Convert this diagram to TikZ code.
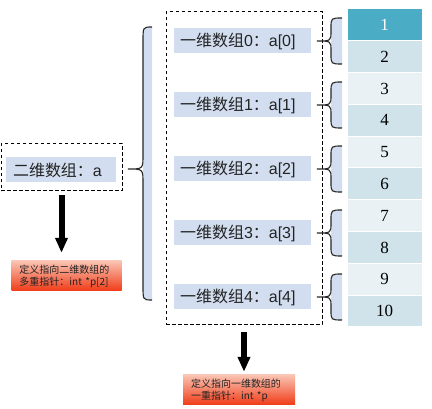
\documentclass[tikz,border=0pt]{standalone}
\usepackage{fontspec}
\setmainfont{Liberation Sans}
\newfontfamily\cjk{Noto Sans CJK SC}
\newfontfamily\numfont{Liberation Serif}
\usetikzlibrary{arrows.meta,positioning,calc}
\definecolor{lblue}{RGB}{210,222,240}
\definecolor{headcell}{RGB}{75,172,198}
\definecolor{darkcell}{RGB}{208,227,234}
\definecolor{lightcell}{RGB}{233,241,244}
\definecolor{txtgray}{RGB}{35,35,35}
\definecolor{redtop}{RGB}{250,195,178}
\definecolor{redbot}{RGB}{240,58,22}
\tikzset{
dbox/.style={draw, dash pattern=on 3.5pt off 2.5pt, line width=1pt, inner sep=0pt},
lbl/.style={fill=lblue, text=txtgray, minimum height=25pt, inner xsep=6pt, inner ysep=0pt, align=left, font=\fontsize{16}{19}\selectfont},
cell/.style={draw=white, line width=1pt, minimum width=75pt, minimum height=31.8pt, inner sep=0pt, font=\numfont\fontsize{17}{20}\selectfont},
note/.style={top color=redtop, bottom color=redbot, text=txtgray, align=left, minimum height=30pt, inner xsep=8pt, inner ysep=2pt, font=\cjk\fontsize{10}{12}\selectfont},
bigarr/.style={-{Triangle[width=12pt,length=15pt]}, line width=6pt},
bracedraw/.style={draw=black!85, line width=1.1pt},
}
% left brace: tip x, stem x, right x, top y, middle y, bottom y, curl
\newcommand{\drawbrace}[7]{%
\fill[lblue] (#3,#4) .. controls (#2,#4) .. (#2,{#4+#7}) -- (#2,{#6-#7}) .. controls (#2,#6) .. (#3,#6) -- cycle;
\draw[bracedraw] (#3,#4) .. controls (#2,#4) .. (#2,{#4+#7}) -- (#2,{#5-#7})
.. controls (#2,#5) .. (#1,#5) .. controls (#2,#5) .. (#2,{#5+#7})
-- (#2,{#6-#7}) .. controls (#2,#6) .. (#3,#6);
}

\begin{document}
\begin{tikzpicture}[x=1pt,y=-1pt]
\useasboundingbox (0,0) rectangle (432,409);

% two-dimensional array
\node[dbox, minimum width=121pt, minimum height=47pt] (dimbox) at (61.5,167.5) {};
\node[lbl, text width=96pt, inner xsep=7pt] (dimlbl) at (61,170) {{\cjk 二维数组：}a};
\node[note, text width=94pt] (noteA) at (66.5,276) {定义指向二维数组的\\多重指针：int *p[2]};
\draw[bigarr, shorten <=4pt, shorten >=8pt] (dimbox.south) -- (dimbox.south |- noteA.north);

% one-dimensional arrays
\node[dbox, minimum width=156pt, minimum height=313pt] (midbox) at (244,168.5) {};
\foreach \i in {0,...,4}
\node[lbl, text width=125pt] (row\i) at (242.5,{41+64*\i}) {{\cjk 一维数组}\i{\cjk ：}a[\i]};
\node[note, text width=96pt] (noteB) at (239,390) {定义指向一维数组的\\一重指针：int *p};
\draw[bigarr, shorten <=7pt, shorten >=3pt] (midbox.south) -- (midbox.south |- noteB.north);

\drawbrace{128}{143}{152}{27}{169}{300}{14}
\foreach \i [evaluate=\i as \y using 41+64*\i] in {0,...,4}
{\drawbrace{317}{331}{342}{\y-23}{\y}{\y+23}{10}}

% cells
\foreach \k/\c/\t in {1/headcell/white,2/darkcell/black,3/lightcell/black,4/darkcell/black,
5/lightcell/black,6/darkcell/black,7/lightcell/black,8/darkcell/black,9/lightcell/black,10/darkcell/black}
\node[cell, fill=\c, text=\t] (cell\k) at (384.5,{9+31.8*(\k-0.5)}) {\k};
\end{tikzpicture}
\end{document}
